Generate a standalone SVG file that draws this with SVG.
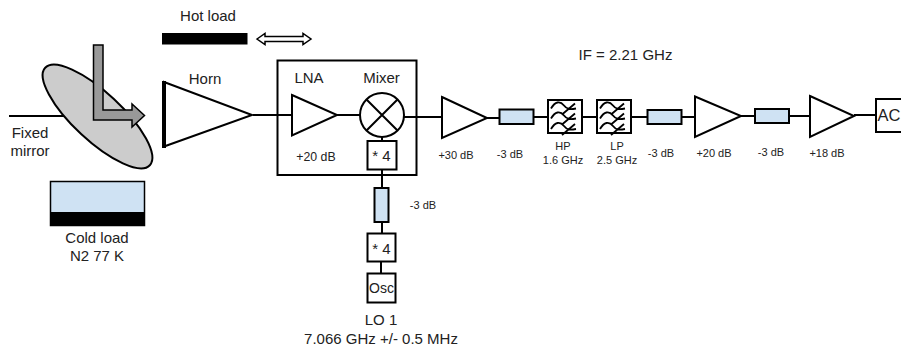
<svg xmlns="http://www.w3.org/2000/svg" width="901" height="346" viewBox="0 0 901 346">
<style>
text{font-family:"Liberation Sans",Arial,sans-serif;fill:#222;text-anchor:middle}
.t{font-size:15px}.s{font-size:11px}
.b{fill:#fff;stroke:#000;stroke-width:2}
.a{fill:#cfe2f3;stroke:#000;stroke-width:2}
.c{fill:none;stroke:#000;stroke-width:2}
.f{fill:none;stroke:#000;stroke-width:1.800}
</style>
<defs>
<path id="wave" class="f" d="M-14 -8C-10 -15 -5 -16 -1 -11C2 -7 5 -7 11 -8M10 -13L-3 -2"/>
<g id="filter"><rect class="b" x="-17" y="-16.500" width="34" height="33"/><use href="#wave"/><use href="#wave" y="10"/><use href="#wave" y="20.500"/></g>
</defs>
<g id="connectors">
<path class="c" d="M9 116H70M253 115H292M337 115H360M404 117H442M487 118H499M534 117H548M582 117H597M631 117H647M681 117H695M741 116H755M789 116H810M854 115H876M382 137V141M382 169V188M382 222V233M381 261V273"/>
</g>
<g id="mirror"><ellipse cx="97.500" cy="116.500" rx="71.500" ry="24" transform="rotate(43 97.500 116.500)" fill="#ccc" stroke="#000" stroke-width="2"/>
<polygon points="93.500,45 103,45 103,110 132,110 132,104 144.500,115.500 132,127 132,120 93.500,120" fill="#999" stroke="#000" stroke-width="1.500"/>
<text class="t" x="30" y="138">Fixed</text><text class="t" x="30" y="156">mirror</text></g>
<g id="cold-load"><rect x="50.500" y="181.500" width="94" height="44" fill="#cfe2f3" stroke="#000" stroke-width="1.500"/><rect x="50.500" y="212" width="94" height="13" fill="#000"/>
<text class="t" x="97" y="243">Cold load</text><text class="t" x="97" y="261">N2 77 K</text></g>
<g id="hot-load"><rect x="162" y="33" width="85.500" height="11.500" fill="#000"/><text class="t" x="208" y="21">Hot load</text>
<polygon points="257,39 265,33.500 265,36.500 303,36.500 303,33.500 311,39 303,44.500 303,41.500 265,41.500 265,44.500" fill="#fff" stroke="#000" stroke-width="1.500"/></g>
<g id="horn"><polygon class="b" points="164,82 252,115 164,146.500"/><path d="M164 81V148" stroke="#000" stroke-width="4"/><text class="t" x="205" y="84">Horn</text></g>
<g id="frontend"><rect x="277.500" y="60.500" width="139" height="114.500" fill="none" stroke="#000" stroke-width="2"/></g>
<g id="lna"><polygon class="b" points="292,95 337,115 292,135.500"/><text class="t" x="309" y="83">LNA</text><text x="316" y="161" font-size="12.300">+20 dB</text></g>
<g id="mixer"><circle class="b" cx="382" cy="115" r="22"/><path class="c" d="M366.500 99.500L397.500 130.500M397.500 99.500L366.500 130.500"/><text class="t" x="381.500" y="83">Mixer</text></g>
<g id="mult1"><rect class="b" x="367.500" y="141" width="29" height="28.500"/><text x="381.500" y="161" font-size="15">* 4</text></g>
<g id="att-lo"><rect class="a" x="374.500" y="188" width="14" height="34"/><text class="s" x="423" y="209">-3 dB</text></g>
<g id="mult2"><rect class="b" x="367.500" y="233.500" width="28" height="28"/><text x="381.500" y="254" font-size="15">* 4</text></g>
<g id="osc"><rect class="b" x="367.500" y="273.500" width="28" height="29"/><text x="381.500" y="293" font-size="14">Osc</text></g>
<g id="lo-label"><text class="t" x="381" y="325">LO 1</text><text class="t" x="381" y="344">7.066 GHz +/- 0.5 MHz</text></g>
<g id="amp1"><polygon class="b" points="442,97 487,118 442,138"/><text class="s" x="456" y="159">+30 dB</text></g>
<g id="att1"><rect class="a" x="499.500" y="109.500" width="34" height="14.500"/><text class="s" x="510" y="158">-3 dB</text></g>
<g id="hp"><use href="#filter" x="565" y="116.500"/><text class="s" x="563" y="150">HP</text><text class="s" x="563" y="164">1.6 GHz</text></g>
<g id="lp"><use href="#filter" x="614" y="116.500"/><text class="s" x="617" y="150">LP</text><text class="s" x="617" y="164">2.5 GHz</text></g>
<g id="att2"><rect class="a" x="647.500" y="110" width="34" height="14"/><text class="s" x="661" y="157">-3 dB</text></g>
<g id="amp2"><polygon class="b" points="695,96.500 741,116 695,137"/><text class="s" x="714" y="157">+20 dB</text></g>
<g id="att3"><rect class="a" x="755" y="109" width="34" height="14"/><text class="s" x="771" y="156">-3 dB</text></g>
<g id="amp3"><polygon class="b" points="810,96 854,116 810,137"/><text class="s" x="827" y="157">+18 dB</text></g>
<g id="ac"><rect class="b" x="876" y="99" width="34" height="33"/><text x="877.500" y="121" font-size="16.500" style="text-anchor:start">AC</text></g>
<text class="t" x="625.500" y="60">IF = 2.21 GHz</text>
</svg>
